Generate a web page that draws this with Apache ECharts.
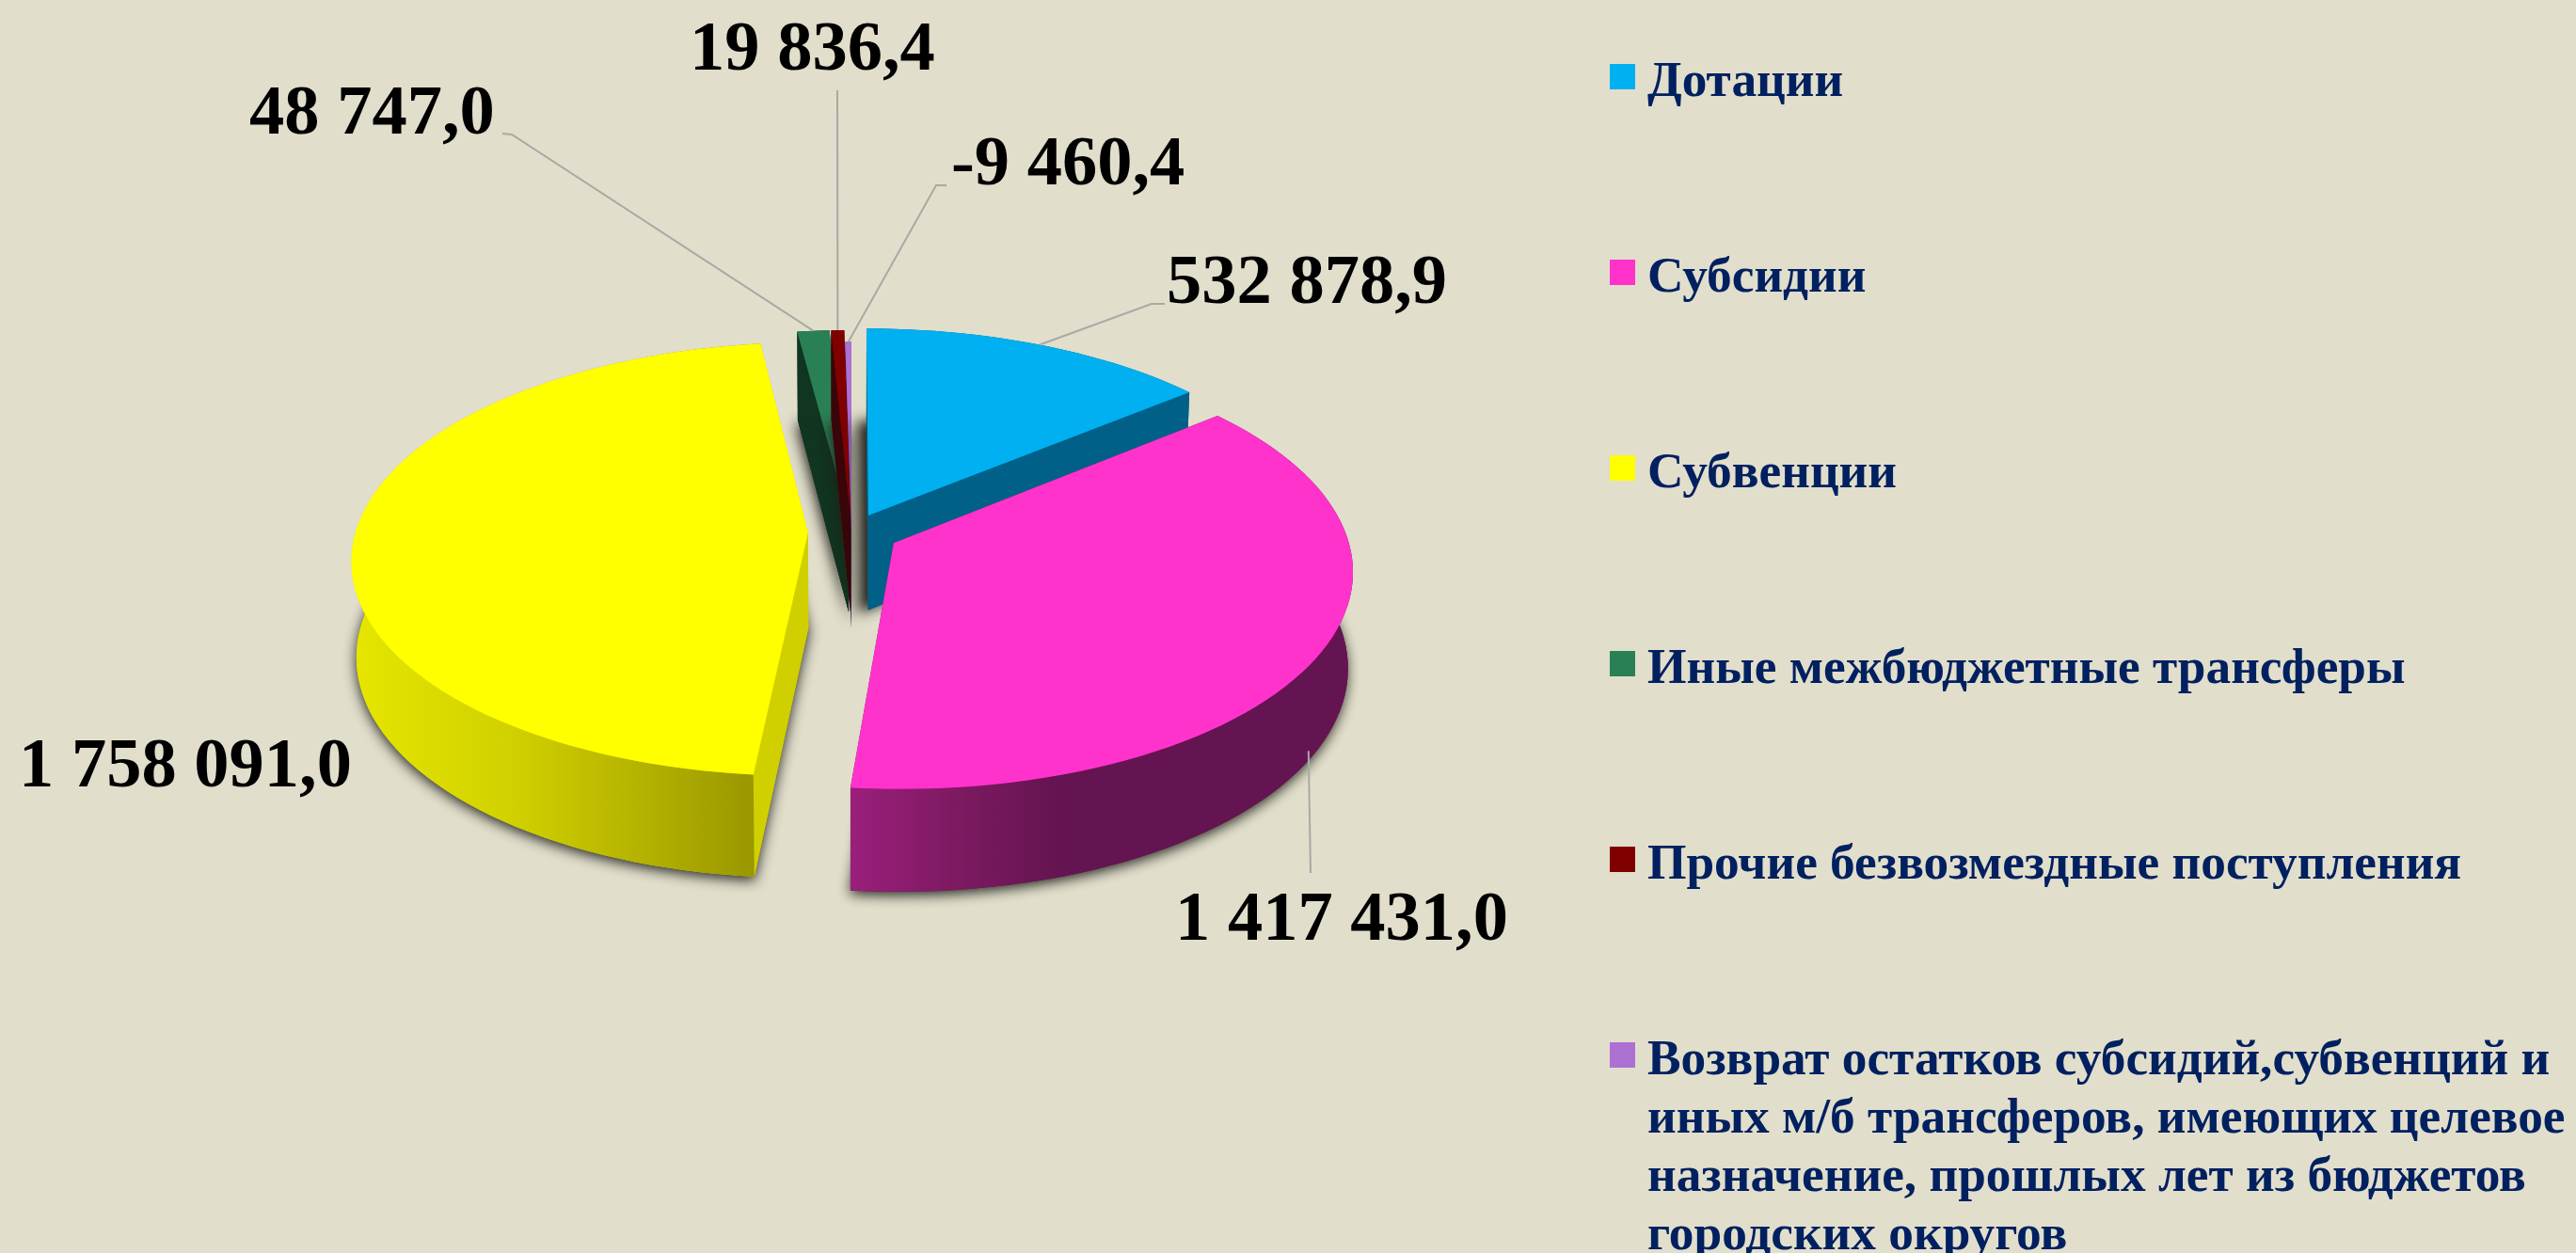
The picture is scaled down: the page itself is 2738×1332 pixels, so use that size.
<!DOCTYPE html>
<html>
<head>
<meta charset="utf-8">
<title>Безвозмездные поступления</title>
<style>
	html, body { margin: 0; padding: 0; background: #E1DECB; }
	#chart { width: 2738px; height: 1332px; }
</style>
<script src="https://cdn.jsdelivr.net/npm/echarts@6/dist/echarts.min.js"></script>
</head>
<body>
<div id="chart"></div>
<script>
var categories = [
	'Дотации',
	'Субсидии',
	'Субвенции',
	'Иные межбюджетные трансферы',
	'Прочие безвозмездные поступления',
	'Возврат остатков субсидий,субвенций и\nиных м/б трансферов, имеющих целевое\nназначение, прошлых лет из бюджетов\nгородских округов'
];
var values = [532878.9, 1417431.0, 1758091.0, 48747.0, 19836.4, -9460.4];

// цвета граней
var topColors = ['#00B0F0', '#FF33CC', '#FFFF00', '#2A8055', '#800000', '#AD70D3'];
var sideColors = ['#006088', '#641450', '#D0D000', '#103520', '#3A0508', '#4A2A5A'];

// вынос секторов и порядок отрисовки
var explode = [0.088, 0.105, 0.096, 0.07, 0.07, 0];
var drawOrder = [1, 5, 4, 2, 3, 0]; // index == category, value == z step
var shadowShift = [-10, -1, 0, -2, -2, -2];

// подписи: точка текста, излом линии, конец линии
var labelPos = [[1240, 303], [1249, 980], [20, 817], [265, 123], [733, 55], [1011, 177]];
var leaderPath = [
	[[1224, 323], [1238, 323]],
	[[1393, 928]],
	null,
	[[544, 143], [534, 142]],
	[[890, 96]],
	[[995, 197], [1006, 197]]
];
var leaderAngleShift = [0, 3, 0, 0, 0, 0];
var leaderDepth = [0, 0.9, 0, 0, 0, 0];

// перспектива
var cx = 905, cy = 566, radiusX = 481, radiusY = 227, persp = 0.121, depth = 101, lowScale = 0.99;

var total = values.reduce(function(s, v) { return s + Math.abs(v); }, 0);

function project(u, v) {
	var d = 1 - persp * v;
	return [cx + radiusX * u / d, cy + radiusY * v / d];
}

function depthAt(v) {
	return depth / (1 - 0.07 * v);
}

function sliceInfo(idx) {
	var start = 0;
	for (var i = 0; i < idx; i++) {
		start += Math.abs(values[i]) / total * 360;
	}
	var sweep = Math.abs(values[idx]) / total * 360;
	return { start: start, end: start + sweep, mid: start + sweep / 2 };
}

function planePoint(idx, angle, r) {
	var info = sliceInfo(idx);
	var m = info.mid * Math.PI / 180, a = angle * Math.PI / 180;
	return {
		u: explode[idx] * Math.sin(m) + r * Math.sin(a),
		v: -explode[idx] * Math.cos(m) - r * Math.cos(a)
	};
}

function topPoint(idx, angle, r) {
	var p = planePoint(idx, angle, r);
	return project(p.u, p.v);
}

function lowPoint(idx, angle, r, frac) {
	var p = planePoint(idx, angle, r);
	var xy = project(p.u, p.v);
	var f = frac === undefined ? 1 : frac;
	// нижнее основание чуть дальше от камеры
	return [cx + (xy[0] - cx) * (1 - (1 - lowScale) * f), xy[1] + depthAt(p.v) * f];
}

function formatValue(v) {
	var s = Math.abs(v).toFixed(1).split('.');
	return (v < 0 ? '-' : '') + s[0].replace(/\B(?=(\d{3})+$)/g, ' ') + ',' + s[1];
}

function rimFill(idx) {
	if (idx === 1) {
		return new echarts.graphic.LinearGradient(0, 0, 1, 0, [
			{ offset: 0, color: '#9A1F7C' },
			{ offset: 0.2, color: '#7F1A62' },
			{ offset: 0.42, color: '#641450' },
			{ offset: 1, color: '#641450' }
		]);
	}
	if (idx === 2) {
		return new echarts.graphic.LinearGradient(0, 0, 1, 0, [
			{ offset: 0, color: '#E6E600' },
			{ offset: 0.4, color: '#D0D000' },
			{ offset: 0.75, color: '#B0AE00' },
			{ offset: 1, color: '#989500' }
		]);
	}
	return sideColors[idx];
}

function renderSlice(idx) {
	var info = sliceInfo(idx);
	var step = (info.end - info.start) / Math.max(2, Math.ceil((info.end - info.start) / 2));
	var topRim = [], lowRim = [];
	for (var a = info.start; a <= info.end + 1e-6; a += step) {
		topRim.push(topPoint(idx, a, 1));
		lowRim.push(lowPoint(idx, a, 1));
	}
	var apex = topPoint(idx, 0, 0), apexLow = lowPoint(idx, 0, 0);
	var topPoly = [apex].concat(topRim);
	var lowPoly = [apexLow].concat(lowRim);
	var strip = topRim.concat(lowRim.slice().reverse());
	var startFace = [apex, topRim[0], lowRim[0], apexLow];
	var endFace = [apex, topRim[topRim.length - 1], lowRim[lowRim.length - 1], apexLow];

	var children = [];
	// тень только от нижнего основания
	children.push({
		type: 'polygon',
		shape: { points: lowPoly },
		style: {
			fill: '#55534A',
			shadowBlur: 14,
			shadowColor: 'rgba(30,30,24,0.95)',
			shadowOffsetX: shadowShift[idx],
			shadowOffsetY: 4
		}
	});
	children.push({ type: 'polygon', shape: { points: lowPoly }, style: { fill: sideColors[idx] } });
	children.push({ type: 'polygon', shape: { points: endFace }, style: { fill: sideColors[idx] } });
	children.push({ type: 'polygon', shape: { points: startFace }, style: { fill: sideColors[idx] } });
	children.push({ type: 'polygon', shape: { points: strip }, style: { fill: rimFill(idx) } });
	children.push({ type: 'polygon', shape: { points: topPoly }, style: { fill: topColors[idx] } });

	// линия-выноска и подпись
	if (leaderPath[idx]) {
		var angle = info.mid + leaderAngleShift[idx];
		var startPt = lowPoint(idx, angle, 1, leaderDepth[idx]);
		children.push({
			type: 'polyline',
			shape: { points: [startPt].concat(leaderPath[idx]) },
			style: { stroke: '#A9A9A6', lineWidth: 2, fill: null }
		});
	}
	children.push({
		type: 'text',
		style: {
			text: formatValue(values[idx]),
			x: labelPos[idx][0],
			y: labelPos[idx][1],
			fill: '#000',
			font: 'bold 74.5px "Liberation Serif"',
			align: 'left',
			verticalAlign: 'middle'
		}
	});
	return { type: 'group', children: children };
}

var series = categories.map(function(name, idx) {
	return {
		name: name,
		type: 'custom',
		coordinateSystem: 'none',
		silent: true,
		z: 2 + drawOrder[idx],
		itemStyle: { color: topColors[idx] },
		data: [[values[idx]]],
		renderItem: function() {
			return renderSlice(idx);
		}
	};
});

function legendLabel(name) {
	return '{t|' + name + '}';
}

function legendRich(lineHeight) {
	return {
		t: {
			color: '#002060',
			fontFamily: 'Liberation Serif',
			fontWeight: 'bold',
			fontSize: 53.3,
			lineHeight: lineHeight
		}
	};
}

var option = {
	backgroundColor: '#E1DECB',
	animation: false,
	tooltip: { show: false },
	legend: [{
		orient: 'vertical',
		left: 1711,
		top: 62,
		padding: 0,
		icon: 'rect',
		itemWidth: 27,
		itemHeight: 27,
		itemGap: 155,
		selectedMode: false,
		data: categories.slice(0, 5),
		formatter: legendLabel,
		textStyle: { padding: [14, 0, 0, 8], rich: legendRich(58) }
	}, {
		orient: 'vertical',
		left: 1711,
		top: 1102,
		padding: 0,
		icon: 'rect',
		itemWidth: 27,
		itemHeight: 27,
		selectedMode: false,
		data: categories.slice(5),
		formatter: legendLabel,
		textStyle: { padding: [200, 0, 0, 8], rich: legendRich(62) }
	}],
	series: series
};

var myChart = echarts.init(document.getElementById('chart'));
myChart.setOption(option);
</script>
</body>
</html>
